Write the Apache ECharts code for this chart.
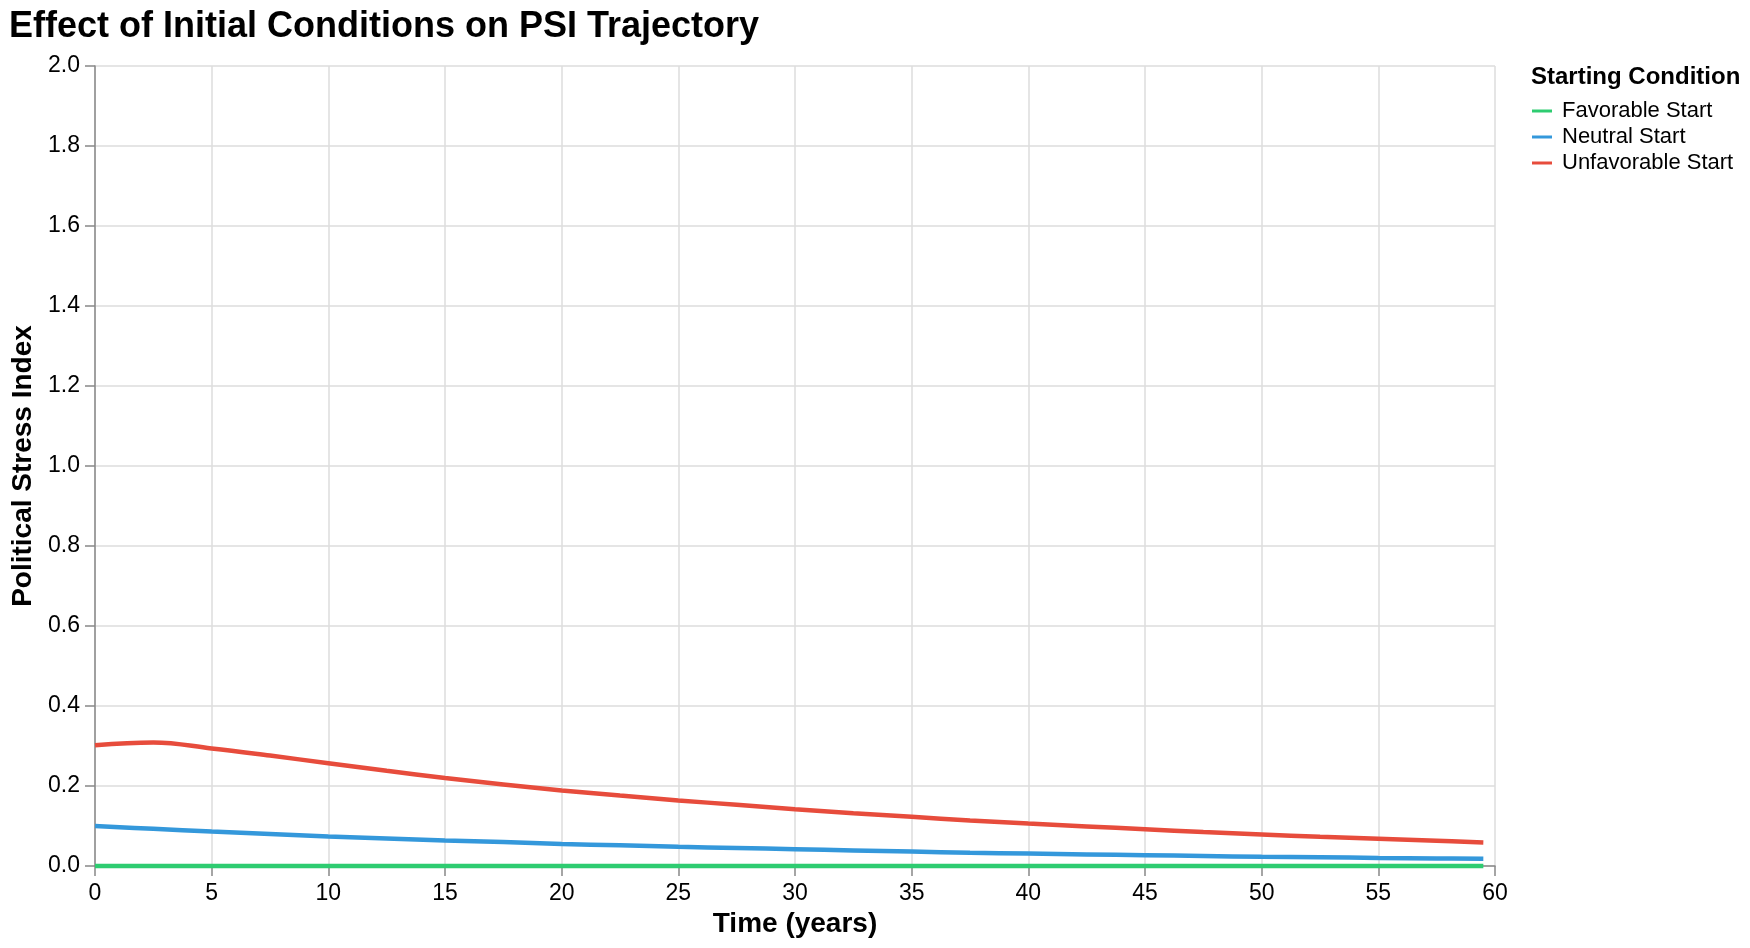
<!DOCTYPE html>
<html>
<head>
<meta charset="utf-8">
<script src="https://cdn.jsdelivr.net/npm/echarts@6/dist/echarts.min.js"></script>
<style>
html,body{margin:0;padding:0;background:#fff;}
#chart{width:1750px;height:948px;}
</style>
</head>
<body>
<div id="chart"></div>
<script>
// ---- data ----
const chartTitle = 'Effect of Initial Conditions on PSI Trajectory';
const legendTitle = 'Starting Condition';
const xTitle = 'Time (years)';
const yTitle = 'Political Stress Index';
const seriesNames = ['Favorable Start', 'Neutral Start', 'Unfavorable Start'];
const seriesColors = ['#2ecc71', '#3498db', '#e74c3c'];
const times = [0, 2.5, 5, 7.5, 10, 12.5, 15, 17.5, 20, 22.5, 25, 27.5, 30, 32.5, 35, 37.5, 40, 42.5, 45, 47.5, 50, 52.5, 55, 57.5, 59.5];
const favorable = [0, 0, 0, 0, 0, 0, 0, 0, 0, 0, 0, 0, 0, 0, 0, 0, 0, 0, 0, 0, 0, 0, 0, 0, 0];
const neutral = [0.100, 0.093, 0.086, 0.080, 0.074, 0.069, 0.064, 0.060, 0.055, 0.052, 0.048, 0.045, 0.042, 0.039, 0.036, 0.033, 0.031, 0.029, 0.027, 0.025, 0.023, 0.022, 0.020, 0.019, 0.018];
const unfavorable = [0.302, 0.309, 0.294, 0.276, 0.257, 0.238, 0.220, 0.204, 0.189, 0.176, 0.164, 0.153, 0.142, 0.132, 0.123, 0.114, 0.106, 0.099, 0.092, 0.085, 0.079, 0.073, 0.068, 0.063, 0.059];
const xTicks = {min: 0, max: 60, interval: 5};
const yTicks = {min: 0, max: 2, interval: 0.2};

const FONT = "'Liberation Sans', Arial, Helvetica, sans-serif";
const allValues = [favorable, neutral, unfavorable];

const chart = echarts.init(document.getElementById('chart'), null, {renderer: 'canvas'});
const option = {
  backgroundColor: '#ffffff',
  animation: false,
  title: [
    {text: chartTitle, left: 9, top: 9, padding: 0,
     textStyle: {fontFamily: FONT, fontSize: 36, fontWeight: 'bold', color: '#000'}},
    {text: legendTitle, left: 1531, top: 65, padding: 0,
     textStyle: {fontFamily: FONT, fontSize: 24, fontWeight: 'bold', color: '#000'}}
  ],
  legend: {
    orient: 'vertical', left: 1532, top: 100, padding: 0,
    itemWidth: 20, itemHeight: 3, itemGap: 4, icon: 'rect',
    textStyle: {fontFamily: FONT, fontSize: 22, color: '#000', lineHeight: 22, padding: [0, 0, 0, 5]},
    data: seriesNames
  },
  grid: {left: 95, right: 255, top: 66, bottom: 82, containLabel: false},
  xAxis: {
    type: 'value', min: xTicks.min, max: xTicks.max, interval: xTicks.interval,
    name: xTitle, nameLocation: 'middle', nameGap: 42,
    nameTextStyle: {fontFamily: FONT, fontSize: 28, fontWeight: 'bold', color: '#000'},
    axisLine: {show: true, lineStyle: {color: '#888', width: 1.5}},
    axisTick: {show: true, length: 10, lineStyle: {color: '#888', width: 1.5}},
    axisLabel: {fontFamily: FONT, fontSize: 23, color: '#000', margin: 16},
    splitLine: {show: true, lineStyle: {color: '#dddddd', width: 1.5}}
  },
  yAxis: {
    type: 'value', min: yTicks.min, max: yTicks.max, interval: yTicks.interval,
    name: yTitle, nameLocation: 'middle', nameGap: 56, nameRotate: 90,
    nameTextStyle: {fontFamily: FONT, fontSize: 28, fontWeight: 'bold', color: '#000'},
    axisLine: {show: true, lineStyle: {color: '#888', width: 1.5}},
    axisTick: {show: true, length: 10, lineStyle: {color: '#888', width: 1.5}},
    axisLabel: {fontFamily: FONT, fontSize: 23, color: '#000', margin: 15,
      formatter: v => v.toFixed(1)},
    splitLine: {show: true, lineStyle: {color: '#dddddd', width: 1.5}}
  },
  series: seriesNames.map((name, i) => ({
    name: name, type: 'line', smooth: 0.4, showSymbol: false, symbol: 'none',
    clip: false,
    color: seriesColors[i],
    lineStyle: {width: 4.5, color: seriesColors[i], cap: 'butt'},
    data: times.map((t, j) => [t, allValues[i][j]]),
    z: 3 + i
  }))
};
chart.setOption(option);
</script>
</body>
</html>
